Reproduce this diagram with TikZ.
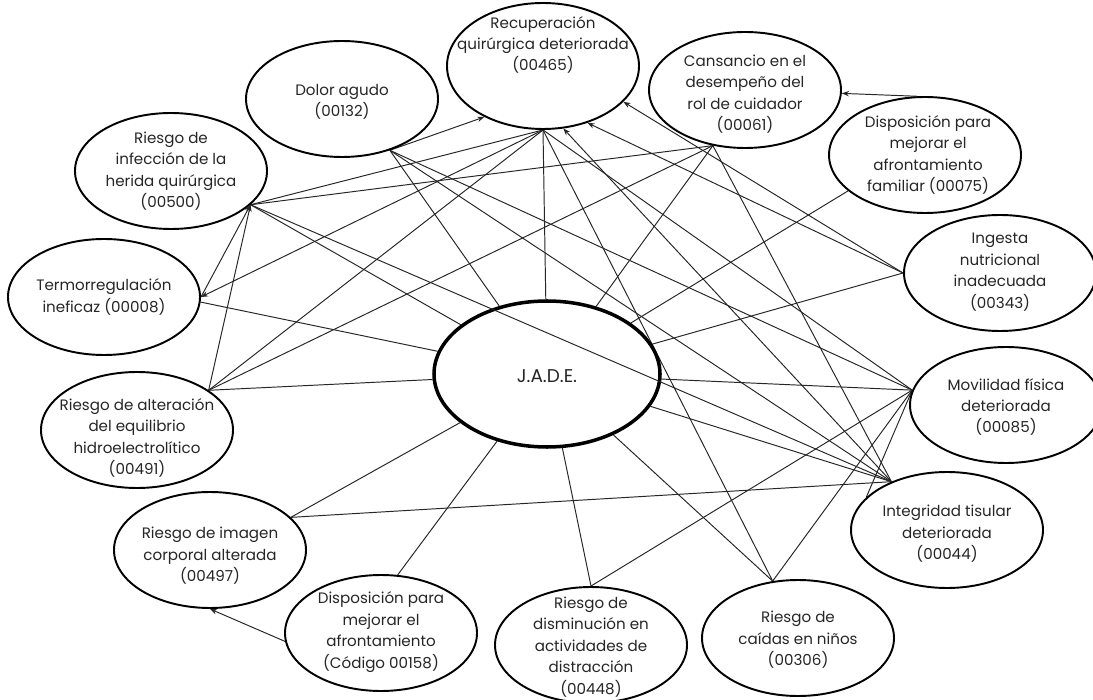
\documentclass[tikz,border=0pt]{standalone}
\usepackage{fontspec}
\setmainfont{Poppins}
\usetikzlibrary{shapes.geometric,arrows.meta}
\pgfdeclarelayer{bg}
\pgfsetlayers{bg,main}
\begin{document}
\begin{tikzpicture}[x=0.2mm,y=-0.2mm,
  el/.style={ellipse,draw=black,fill=white,line width=1.1pt,minimum width=38.4mm,minimum height=23.2mm,inner sep=0pt},
  hub/.style={ellipse,draw=black,fill=white,line width=2pt,minimum width=45.2mm,minimum height=29.2mm,inner sep=0pt},
  tx/.style={align=center,inner sep=0pt,text=black!85,font=\fontsize{8.6}{12.2}\selectfont},
  ln/.style={draw=black!85,line width=0.55pt},
  ar/.style={ln,-{Stealth[length=4pt,width=3pt]}}]
\useasboundingbox (0,0) rectangle (1093,700);
% ellipses
\node[el,minimum height=25.2mm] (R) at (543,66) {};
\node[el] (D) at (342,99) {};
\node[el] (I) at (171,171) {};
\node[el] (T) at (104,297) {};
\node[el] (A) at (137,430) {};
\node[el] (Im) at (210,550) {};
\node[el] (P) at (381,633) {};
\node[el] (Dis) at (591,645) {};
\node[el] (C) at (798,638) {};
\node[el] (Int) at (947,530) {};
\node[el] (M) at (1006,405) {};
\node[el] (Ing) at (1000,273) {};
\node[el] (F) at (925,155) {};
\node[el] (Ca) at (745,90) {};
\node[hub] (J) at (547,374) {};
% texts
\node[tx] (Rt) at (543,45) {Recuperación\\quirúrgica deteriorada\\(00465)};
\node[tx] (Dt) at (342,102) {Dolor agudo\\(00132)};
\node[tx] (It) at (171,171) {Riesgo de\\infección de la\\herida quirúrgica\\(00500)};
\node[tx] (Tt) at (104,297) {Termorregulación\\ineficaz (00008)};
\node[tx] (At) at (137,438) {Riesgo de alteración\\del equilibrio\\hidroelectrolítico\\(00491)};
\node[tx] (Imt) at (210,556) {Riesgo de imagen\\corporal alterada\\(00497)};
\node[tx] (Pt) at (381,632) {Disposición para\\mejorar el\\afrontamiento\\(Código 00158)};
\node[tx] (Dist) at (591,647) {Riesgo de\\disminución en\\actividades de\\distracción\\(00448)};
\node[tx] (Ct) at (798,640) {Riesgo de\\caídas en niños\\(00306)};
\node[tx] (Intt) at (947,534) {Integridad tisular\\deteriorada\\(00044)};
\node[tx] (Mt) at (1006,407) {Movilidad física\\deteriorada\\(00085)};
\node[tx] (Ingt) at (1000,272) {Ingesta\\nutricional\\inadecuada\\(00343)};
\node[tx] (Ft) at (928,155) {Disposición para\\mejorar el\\afrontamiento\\familiar (00075)};
\node[tx] (Cat) at (745,94) {Cansancio en el\\desempeño del\\rol de cuidador\\(00061)};
\node[tx,font=\fontsize{10.5}{12}\selectfont] (Jt) at (547,376) {J.A.D.E.};
% connectors
\begin{pgfonlayer}{bg}
\fill[white] (0,0) rectangle (1093,700);
\draw[ln] (R.south) -- (J);
\draw[ln] (R.south) -- (I.-23);
\draw[ar] (R.south) -- (T.east);
\draw[ln] (R.south) -- (A.29);
\draw[ln] (R.south) -- (C.114);
\draw[ln] (R.south) -- (M.171);
\draw[ar] (Int.139) -- (R.-72);
\draw[ar] (Ing.west) -- (R.-52);
\draw[ar] (Ing.west) -- (R.-24);
\draw[ar] (D.-47) -- (R.221);
\draw[ln] (D.-47) -- (J);
\draw[ln] (D.-47) -- (Int.139);
\draw[ln] (D.-47) -- (M.171);
\draw[ln] (I.-23) -- (Ca.240);
\draw[ln] (I.-23) -- (J);
\draw[ar] (T.east) -- (I.-23);
\draw[ar] (A.29) -- (I.-23);
\draw[ln] (T.-3) -- (J);
\draw[ln] (A.29) -- (Ca.240);
\draw[ln] (A.29) -- (J);
\draw[ln] (Im.22) -- (J);
\draw[ln] (Im.22) -- (Int.139);
\draw[ar] (P.185) -- (Im.south);
\draw[ln] (P.74) -- (J);
\draw[ln] (Dis.north) -- (J);
\draw[ln] (Dis.north) -- (M.171);
\draw[ln] (C.114) -- (J);
\draw[ln] (C.114) -- (M.171);
\draw[ln] (Int.139) -- (J);
\draw[ln] (M.171) -- (J);
\draw[ln] (M.171) -- (Int.158);
\draw[ln] (Ing.west) -- (J);
\draw[ln] (F.205) -- (J);
\draw[ar] (F.98) -- (Ca.-2);
\draw[ln] (Ca.240) -- (J);
\draw[ln] (Ca.240) -- (Int.139);
\end{pgfonlayer}
\draw[ln] (I.-23) -- (Int.139);
\end{tikzpicture}
\end{document}
